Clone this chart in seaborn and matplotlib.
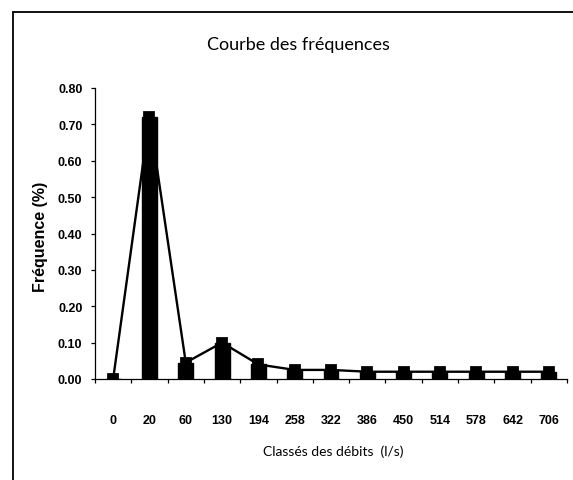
import matplotlib
matplotlib.use("Agg")
import matplotlib.pyplot as plt
import seaborn as sns
import numpy as np
from matplotlib.lines import Line2D

categories = ["0", "20", "60", "130", "194", "258", "322", "386", "450", "514", "578", "642", "706"]
bar_values = [0.0, 0.72, 0.045, 0.10, 0.04, 0.025, 0.025, 0.02, 0.02, 0.02, 0.02, 0.02, 0.02]
line_values = [0.0, 0.72, 0.045, 0.10, 0.04, 0.025, 0.025, 0.02, 0.02, 0.02, 0.02, 0.02, 0.02]
y_ticks = [0.0, 0.1, 0.2, 0.3, 0.4, 0.5, 0.6, 0.7, 0.8]
y_tick_labels = ["0.00", "0.10", "0.20", "0.30", "0.40", "0.50", "0.60", "0.70", "0.80"]

sns.set_theme(style="white")
plt.rcParams['font.family'] = ['Liberation Sans Narrow', 'Liberation Sans', 'DejaVu Sans']

W, H = 573, 481
fig = plt.figure(figsize=(W / 100, H / 100), dpi=100)
ax = fig.add_axes([95 / W, 1 - 380 / H, (567 - 95) / W, 291 / H])

sns.barplot(x=categories, y=bar_values, order=categories, color="black",
            width=0.41, ax=ax, saturation=1, edgecolor="black")
sns.pointplot(x=categories, y=line_values, order=categories, color="black",
              markers="s", linestyles="-", linewidth=1.7, markersize=7, ax=ax)

ax.set_xlim(-0.5, 12.5)
ax.set_ylim(0, 0.8)
ax.set_yticks(y_ticks)
ax.set_yticklabels(y_tick_labels, fontweight="bold")
ax.set_xticks(np.arange(len(categories)))
ax.set_xticklabels(categories, fontweight="bold")
ax.set_xticks(np.arange(-0.5, len(categories)), minor=True)
ax.tick_params(axis="x", which="major", length=0, pad=25, labelsize=9, labelcolor="black")
ax.tick_params(axis="x", which="minor", length=3, width=0.9, direction="out", color="black", bottom=True)
ax.tick_params(axis="y", which="major", length=3, width=0.9, direction="out", color="black", left=True,
               pad=6, labelsize=9, labelcolor="black")
ax.set_xlabel("")
ax.set_ylabel("")
ax.grid(False)
for s in ["top", "right"]:
    ax.spines[s].set_visible(False)
for s in ["left", "bottom"]:
    ax.spines[s].set_color("black")
    ax.spines[s].set_linewidth(0.9)

fig.text(298 / W, 1 - 45 / H, "Courbe des fréquences", ha="center", va="center",
         fontsize=13, family=["Lato", "DejaVu Sans"], color="black")
fig.text(333 / W, 1 - 452 / H, "Classés des débits  (l/s)", ha="center", va="center",
         fontsize=10, family=["Lato", "DejaVu Sans"], color="black")
fig.text(40 / W, 1 - 237 / H, "Fréquence (%)", ha="center", va="center", rotation=90,
         fontsize=11.5, fontweight="bold", family=["Liberation Sans", "DejaVu Sans"], color="black")

# outer chart border (top and left visible)
fig.add_artist(Line2D([12.5 / W, 1.0], [1 - 13 / H, 1 - 13 / H], transform=fig.transFigure,
                      color="black", linewidth=1.3))
fig.add_artist(Line2D([12.5 / W, 12.5 / W], [0.0, 1 - 13 / H], transform=fig.transFigure,
                      color="black", linewidth=1.3))

fig.savefig("out.png", dpi=100)
